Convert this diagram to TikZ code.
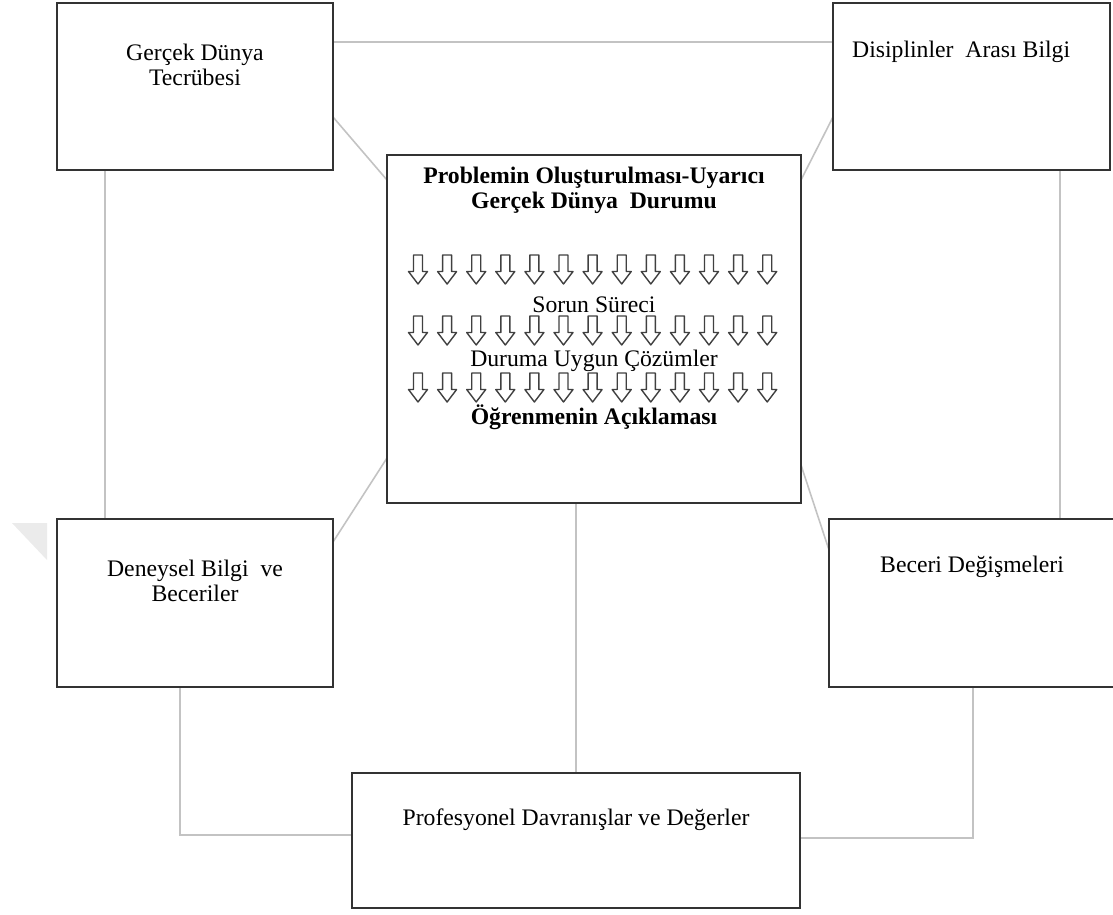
\documentclass[tikz,border=0pt]{standalone}
\usepackage{fontspec}
\setmainfont{Liberation Serif}
\usetikzlibrary{calc}
\definecolor{boxgray}{HTML}{333333}
\definecolor{linkgray}{HTML}{C3C3C3}
\definecolor{arrowgray}{HTML}{404040}
\definecolor{markgray}{HTML}{EBEBEB}
\pgfdeclarelayer{background}
\pgfsetlayers{background,main}
\tikzset{
  box/.style={draw=boxgray, line width=1.8pt, anchor=north west, inner sep=0pt, outer sep=0pt},
  openbox/.style={anchor=north west, inner sep=0pt, outer sep=0pt},
  boxline/.style={draw=boxgray, line width=1.8pt},
  link/.style={draw=linkgray, line width=1.6pt},
  txt/.style={font=\fontsize{23.7}{25}\selectfont, align=center, inner sep=0pt},
  txtb/.style={txt, font=\fontsize{23.7}{25}\selectfont\bfseries},
  arrowline/.style={draw=arrowgray, line width=1.4pt, fill=white, line join=round},
  hollowdown/.pic={\draw[arrowline] (-4.5,0) -- (4.5,0) -- (4.5,16.5) -- (9.5,16.5) -- (0,29) -- (-9.5,16.5) -- (-4.5,16.5) -- cycle;}
}
\begin{document}
\begin{tikzpicture}[x=1pt,y=-1pt]
\useasboundingbox (0,0) rectangle (1113,914);
% faint corner mark at the left margin
\fill[markgray] (12,523) -- (47,523) -- (47,560) -- cycle;

% boxes
\node[box, minimum width=276pt, minimum height=167pt] (tl) at (57,3) {};
\node[box, minimum width=277pt, minimum height=167pt] (tr) at (833,3) {};
\node[box, minimum width=414pt, minimum height=348pt] (ctr) at (387,155) {};
\node[box, minimum width=276pt, minimum height=168pt] (dl) at (57,519) {};
\node[openbox, minimum width=286pt, minimum height=168pt] (dr) at (829,519) {};
\draw[boxline] (dr.north east) -- (dr.north west) -- (dr.south west) -- (dr.south east);
\node[box, minimum width=448pt, minimum height=135pt] (bot) at (352,773) {};

% connectors
\begin{pgfonlayer}{background}
\draw[link] (tl.east |- 0,42) -- (tr.west |- 0,42);
\draw[link] (tl.south -| 105,0) -- (dl.north -| 105,0);
\draw[link] (tr.south -| 1060,0) -- (dr.north -| 1060,0);
\draw[link] (tl.east |- 0,117) -- (ctr.west |- 0,180);
\draw[link] (tr.west |- 0,117) -- (ctr.east |- 0,180);
\draw[link] (dl.east |- 0,542) -- (ctr.west |- 0,458);
\draw[link] (ctr.east |- 0,465) -- (dr.west |- 0,550);
\draw[link] (ctr.south -| bot.north) -- (bot.north);
\draw[link] (dl.south -| 180,0) |- (bot.west |- 0,835);
\draw[link] (dr.south -| 973,0) |- (bot.east |- 0,838);
\end{pgfonlayer}

% texts
\node[txt] (tlt) at (195,64.5) {Gerçek Dünya\\Tecrübesi};
\node[txt, anchor=west] (trt) at (852,52) {Disiplinler~ Arası Bilgi};
\node[txtb] (ct1) at (594,190.5) {Problemin Oluşturulması-Uyarıcı\\Gerçek Dünya~ Durumu};
\node[txt] (ct2) at (594,305) {Sorun Süreci};
\node[txt] (ct3) at (594,361) {Duruma Uygun Çözümler};
\node[txtb] (ct4) at (594,417) {Öğrenmenin Açıklaması};
\node[txt] (dlt) at (195,580.5) {Deneysel Bilgi~ ve\\Beceriler};
\node[txt] (drt) at (972,567) {Beceri Değişmeleri};
\node[txt] (bott) at (576,820) {Profesyonel Davranışlar ve Değerler};

% rows of hollow down arrows
\foreach \r in {255,316,373}{
  \foreach \i in {0,...,12}{
    \pic at ({418+29.1*\i},\r) {hollowdown};
  }
}
\end{tikzpicture}
\end{document}
